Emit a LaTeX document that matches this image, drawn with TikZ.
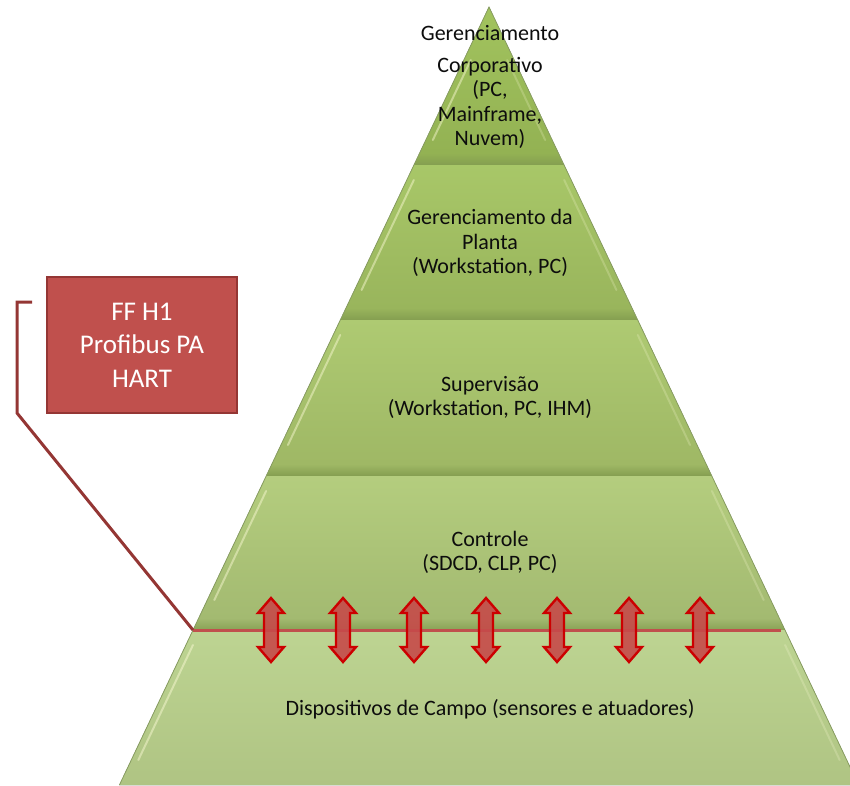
\documentclass[tikz,border=0pt]{standalone}
\usepackage{fontspec}
\setmainfont{Carlito}
\usetikzlibrary{calc}

% layer colours (top -> bottom of each band)
\definecolor{lAt}{HTML}{A2C35E}\definecolor{lAb}{HTML}{93B253}
\definecolor{lBt}{HTML}{A8C768}\definecolor{lBb}{HTML}{99B55C}
\definecolor{lCt}{HTML}{AECA72}\definecolor{lCb}{HTML}{9FB865}
\definecolor{lDt}{HTML}{B4CD7E}\definecolor{lDb}{HTML}{A3BA71}
\definecolor{lEt}{HTML}{BDD492}\definecolor{lEb}{HTML}{AFC483}
\definecolor{seam}{HTML}{849E50}
\definecolor{edge}{HTML}{8A9F63}
\definecolor{busred}{HTML}{C0504D}
\definecolor{busdark}{HTML}{943634}
\definecolor{arrowred}{HTML}{CC0000}
\definecolor{arrowfill}{HTML}{C64A4A}
\definecolor{txt}{HTML}{0D0D0D}

% trapezoid band of the pyramid between heights #1 and #2 (apex at y=7, centre x=489)
\newcommand\pyrband[4]{%
  \pgfmathsetmacro\ya{#1}\pgfmathsetmacro\yb{#2}%
  \pgfmathsetmacro\ha{0.475*(\ya-7)}\pgfmathsetmacro\hb{0.475*(\yb-7)}%
  \fill[top color=#3,bottom color=#4] (489-\ha,\ya) -- (489+\ha,\ya) -- (489+\hb,\yb) -- (489-\hb,\yb) -- cycle;}
% bevel highlights along both slanted sides of a band
\newcommand\pyrshine[2]{%
  \pgfmathsetmacro\ya{#1}\pgfmathsetmacro\yb{#2}%
  \pgfmathsetmacro\ha{0.475*(\ya-7)-7}\pgfmathsetmacro\hb{0.475*(\yb-7)-7}%
  \draw[shine] (489-\ha,\ya) -- (489-\hb,\yb);
  \draw[shine,opacity=0.22] (489+\ha,\ya) -- (489+\hb,\yb);}

\begin{document}
\begin{tikzpicture}[x=1pt,y=-1pt,
  shine/.style={white!85!yellow,opacity=0.45,line width=2pt,line cap=round},
  leveltext/.style={text=txt,align=center,font=\fontsize{22}{24.5}\selectfont,inner sep=0pt},
  calloutbox/.style={fill=busred,draw=busdark,line width=2.5pt,text=white,align=center,
    minimum width=190pt,minimum height=136pt,inner sep=0pt,font=\fontsize{27}{33.5}\selectfont},
  busline/.style={busred,line width=3pt},
  calloutline/.style={busdark,line width=3pt},
  updown/.style={fill=arrowfill,fill opacity=0.9,draw=arrowred,line width=2.4pt,line join=miter}]
\useasboundingbox (0,0) rectangle (850,785);
\clip (0,0) rectangle (850,785);

% pyramid bands
\pyrband{7}{153}{lAt}{lAb}\pyrband{153}{165}{lAb}{seam}
\pyrband{165}{308}{lBt}{lBb}\pyrband{308}{320}{lBb}{seam}
\pyrband{320}{464}{lCt}{lCb}\pyrband{464}{476}{lCb}{seam}
\pyrband{476}{618}{lDt}{lDb}\pyrband{618}{630}{lDb}{seam!85!lDb}
\pyrband{630}{785}{lEt}{lEb}
\pyrshine{60}{140}\pyrshine{180}{290}\pyrshine{335}{445}\pyrshine{491}{600}\pyrshine{645}{760}
\draw[edge,line width=0.8pt] (119.4,785) -- (489,7) -- (858.6,785);

% level labels
\node[leveltext] (corpA) at (490,33) {Gerenciamento};
\node[leveltext] (corpB) at (490,103) {Corporativo\\(PC,\\Mainframe,\\Nuvem)};
\node[leveltext] (planta) at (490,243) {Gerenciamento da\\Planta\\(Workstation, PC)};
\node[leveltext] (superv) at (490,397.5) {Supervisão\\(Workstation, PC, IHM)};
\node[leveltext] (contr) at (490,552.5) {Controle\\(SDCD, CLP, PC)};
\node[leveltext] (campo) at (490,709) {Dispositivos de Campo (sensores e atuadores)};

% fieldbus line and its callout
\coordinate (busL) at (193,630);
\coordinate (busR) at (781,630);
\coordinate (stub) at (32,302);
\coordinate (kneeA) at (17,302);
\coordinate (kneeB) at (17,413);
\draw[busline] (busL) -- (busR);
\draw[calloutline,line join=miter] (stub) -- (kneeA) -- (kneeB) -- (busL);
\node[calloutbox] (bus) at (142,345) {FF H1\\Profibus PA\\HART};

% two-way arrows across the bus
\foreach \i/\x in {1/271,2/343,3/414,4/486,5/557,6/629,7/700}{
  \coordinate (arr\i) at (\x,630);
  \filldraw[updown] ($(arr\i)+(0,-32)$) -- ++(13,15) -- ++(-6,0) -- ++(0,34) -- ++(6,0)
    -- ($(arr\i)+(0,32)$) -- ++(-13,-15) -- ++(6,0) -- ++(0,-34) -- ++(-6,0) -- cycle;
}
\end{tikzpicture}
\end{document}
